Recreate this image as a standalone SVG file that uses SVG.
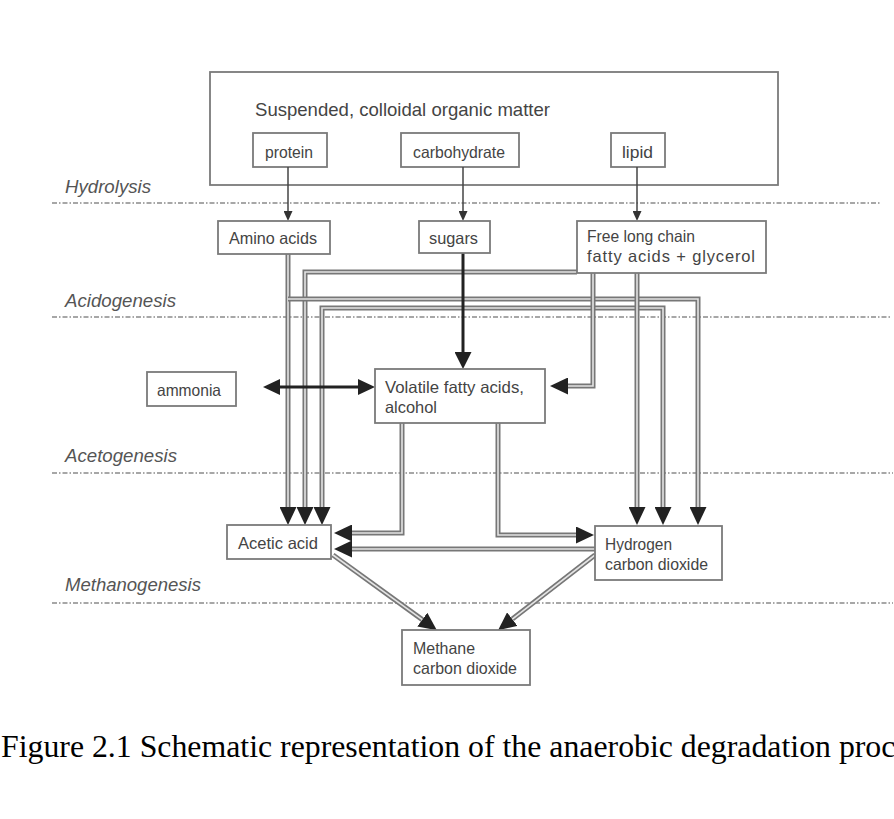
<svg xmlns="http://www.w3.org/2000/svg" xmlns:xlink="http://www.w3.org/1999/xlink" width="894" height="819" viewBox="0 0 894 819">
<style>
.box{fill:#fff;stroke:#7a7a7a;stroke-width:1.8}
.t{font-family:"Liberation Sans",Arial,sans-serif;font-size:16.5px;fill:#444}
.lab{font-family:"Liberation Sans",Arial,sans-serif;font-size:18px;font-style:italic;fill:#555}
.sep{stroke:#8a8a8a;stroke-width:1.6;stroke-dasharray:5 2 1.5 2;fill:none}
.o{fill:none;stroke:#777;stroke-width:5;stroke-linejoin:miter;marker-end:url(#ah)}
.i{fill:none;stroke:#e4e4e4;stroke-width:1.6;stroke-linejoin:miter}
.thin{fill:none;stroke:#444;stroke-width:1.5;marker-end:url(#sm)}
.thick{fill:none;stroke:#222;stroke-width:3;marker-end:url(#big)}
.cap{font-family:"Liberation Serif","Times New Roman",serif;font-size:31.8px;fill:#000}
</style>
<defs>
<marker id="ah" viewBox="0 0 18 17" refX="0" refY="8.5" markerWidth="18" markerHeight="17" markerUnits="userSpaceOnUse" orient="auto"><path d="M0,0 L18,8.5 L0,17 Z" fill="#222"/></marker>
<marker id="sm" viewBox="0 0 10 9" refX="0" refY="4.5" markerWidth="10" markerHeight="9" markerUnits="userSpaceOnUse" orient="auto"><path d="M0,0 L10,4.5 L0,9 Z" fill="#333"/></marker>
<marker id="big" viewBox="0 0 17 17" refX="0" refY="8.5" markerWidth="17" markerHeight="17" markerUnits="userSpaceOnUse" orient="auto"><path d="M0,0 L17,8.5 L0,17 Z" fill="#222"/></marker>
<path id="p1" d="M288,254 V507"/>
<path id="p2" d="M288,299 H698 V507"/>
<path id="p3" d="M577,272 H305 V507"/>
<path id="p4a" d="M463,308 H322 V507"/>
<path id="p4b" d="M463,308 H663 V507"/>
<path id="p5" d="M593,273 V386 H568"/>
<path id="p6" d="M637,273 V507"/>
<path id="p7" d="M402,423 V533 H352"/>
<path id="p8" d="M595,549 H352"/>
<path id="p9" d="M498,423 V535 H576"/>
<path id="p10" d="M333,555 L422.3,619.6"/>
<path id="p11" d="M595,555 L512.3,619.1"/>
</defs>
<rect width="894" height="819" fill="#fff"/>

<g id="stages">
<line class="sep" x1="52" y1="203" x2="880" y2="203"/>
<line class="sep" x1="52" y1="317" x2="892" y2="317"/>
<line class="sep" x1="52" y1="473" x2="893" y2="473"/>
<line class="sep" x1="52" y1="603" x2="893" y2="603"/>
<text class="lab" x="65" y="193" textLength="86" lengthAdjust="spacingAndGlyphs">Hydrolysis</text>
<text class="lab" x="65" y="307" textLength="111" lengthAdjust="spacingAndGlyphs">Acidogenesis</text>
<text class="lab" x="65" y="462" textLength="112" lengthAdjust="spacingAndGlyphs">Acetogenesis</text>
<text class="lab" x="65" y="591" textLength="136" lengthAdjust="spacingAndGlyphs">Methanogenesis</text>
</g>

<g id="organic-matter">
<rect class="box" x="210" y="72" width="568" height="113"/>
<text class="t" x="255" y="116" style="font-size:18.5px" textLength="295" lengthAdjust="spacingAndGlyphs">Suspended, colloidal organic matter</text>
</g>
<g id="protein">
<rect class="box" x="253" y="133" width="74" height="34"/>
<text class="t" x="265" y="158" textLength="48" lengthAdjust="spacingAndGlyphs">protein</text>
</g>
<g id="carbohydrate">
<rect class="box" x="401" y="133" width="118" height="34"/>
<text class="t" x="413" y="158" textLength="92" lengthAdjust="spacingAndGlyphs">carbohydrate</text>
</g>
<g id="lipid">
<rect class="box" x="611" y="133" width="54" height="34"/>
<text class="t" x="622" y="158" textLength="31" lengthAdjust="spacingAndGlyphs">lipid</text>
</g>

<g id="connectors">
<line class="thin" x1="288" y1="167" x2="288" y2="211"/>
<line class="thin" x1="463" y1="167" x2="463" y2="211"/>
<line class="thin" x1="637" y1="167" x2="637" y2="211"/>
<use xlink:href="#p1" class="o"/><use xlink:href="#p1" class="i"/>
<use xlink:href="#p3" class="o"/><use xlink:href="#p3" class="i"/>
<use xlink:href="#p2" class="o"/><use xlink:href="#p2" class="i"/>
<use xlink:href="#p4a" class="o"/><use xlink:href="#p4a" class="i"/>
<use xlink:href="#p4b" class="o"/><use xlink:href="#p4b" class="i"/>
<use xlink:href="#p5" class="o"/><use xlink:href="#p5" class="i"/>
<use xlink:href="#p6" class="o"/><use xlink:href="#p6" class="i"/>
<use xlink:href="#p7" class="o"/><use xlink:href="#p7" class="i"/>
<use xlink:href="#p8" class="o"/><use xlink:href="#p8" class="i"/>
<use xlink:href="#p9" class="o"/><use xlink:href="#p9" class="i"/>
<use xlink:href="#p10" class="o"/><use xlink:href="#p10" class="i"/>
<use xlink:href="#p11" class="o"/><use xlink:href="#p11" class="i"/>
<line class="thick" x1="463" y1="253" x2="463" y2="352"/>
<line x1="278" y1="387" x2="360" y2="387" stroke="#222" stroke-width="3"/>
<path d="M263,387 L280,379 L280,395 Z" fill="#222"/>
<path d="M375,387 L358,379 L358,395 Z" fill="#222"/>
</g>

<g id="amino-acids">
<rect class="box" x="218" y="221" width="112" height="33"/>
<text class="t" x="229" y="244" textLength="88" lengthAdjust="spacingAndGlyphs">Amino acids</text>
</g>
<g id="sugars">
<rect class="box" x="419" y="221" width="71" height="32"/>
<text class="t" x="429" y="244" textLength="49" lengthAdjust="spacingAndGlyphs">sugars</text>
</g>
<g id="fatty-acids">
<rect class="box" x="577" y="221" width="189" height="52"/>
<text class="t" x="587" y="242" textLength="108" lengthAdjust="spacingAndGlyphs">Free long chain</text>
<text class="t" x="587" y="262" textLength="168" lengthAdjust="spacing">fatty acids + glycerol</text>
</g>
<g id="ammonia">
<rect class="box" x="147" y="372" width="89" height="34"/>
<text class="t" x="157" y="396" textLength="64" lengthAdjust="spacingAndGlyphs">ammonia</text>
</g>
<g id="volatile-fatty-acids">
<rect class="box" x="375" y="369" width="170" height="54"/>
<text class="t" x="385" y="393" textLength="139" lengthAdjust="spacingAndGlyphs">Volatile fatty  acids,</text>
<text class="t" x="385" y="413" textLength="52" lengthAdjust="spacingAndGlyphs">alcohol</text>
</g>
<g id="acetic-acid">
<rect class="box" x="227" y="525" width="104" height="34"/>
<text class="t" x="238" y="549" textLength="80" lengthAdjust="spacingAndGlyphs">Acetic acid</text>
</g>
<g id="hydrogen">
<rect class="box" x="595" y="526" width="127" height="54"/>
<text class="t" x="605" y="550" textLength="67" lengthAdjust="spacingAndGlyphs">Hydrogen</text>
<text class="t" x="605" y="570" textLength="103" lengthAdjust="spacingAndGlyphs">carbon dioxide</text>
</g>
<g id="methane">
<rect class="box" x="402" y="630" width="128" height="55"/>
<text class="t" x="413" y="654" textLength="62" lengthAdjust="spacingAndGlyphs">Methane</text>
<text class="t" x="413" y="674" textLength="104" lengthAdjust="spacingAndGlyphs">carbon dioxide</text>
</g>

<text class="cap" x="1" y="757">Figure 2.1 Schematic representation of the anaerobic degradation proc</text>
</svg>
